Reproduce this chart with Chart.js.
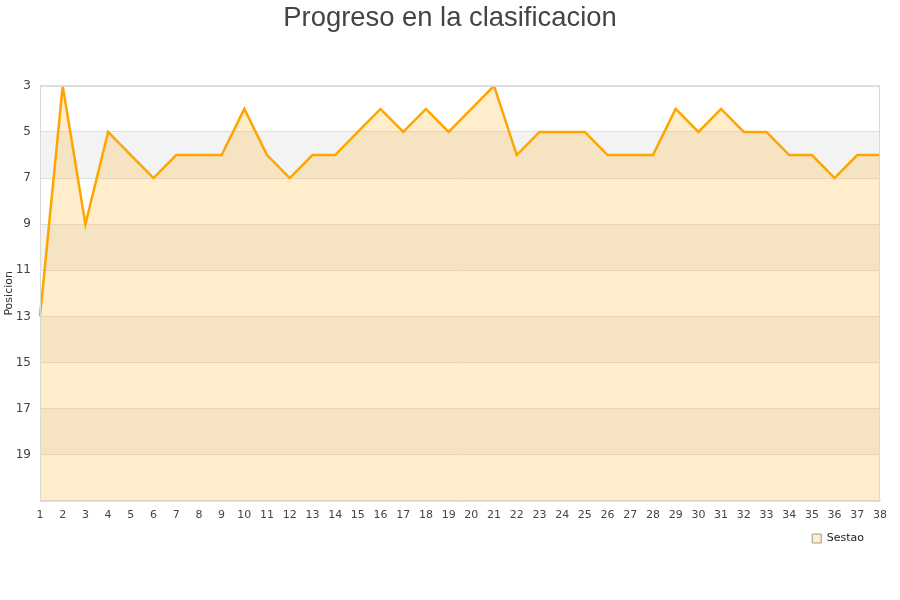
<!DOCTYPE html>
<html>
<head>
<meta charset="utf-8">
<script src="https://cdn.jsdelivr.net/npm/chart.js@4/dist/chart.umd.min.js"></script>
<style>
  html, body { margin: 0; padding: 0; background: #fff; }
  #wrap { width: 900px; height: 600px; }
</style>
</head>
<body>
<div id="wrap"><canvas id="progressChart"></canvas></div>
<script>
const jornadas = ['1','2','3','4','5','6','7','8','9','10','11','12','13','14','15','16','17','18','19',
    '20','21','22','23','24','25','26','27','28','29','30','31','32','33','34','35','36','37','38']
const posiciones = [13, 3, 9, 5, 6, 7, 6, 6, 6, 4, 6, 7, 6, 6, 5, 4, 5, 4, 5, 4, 3,
    6, 5, 5, 5, 6, 6, 6, 4, 5, 4, 5, 5, 6, 6, 7, 6, 6]
const equipo = 'Sestao'
const bandas = [3, 5, 7, 9, 11, 13, 15, 17, 19, 21]

const bandPlugin = {
    id: 'bands',
    afterLayout(chart) {
        // centre the title on the whole canvas, pull the legend a bit in from the right
        if (chart.titleBlock) {
            chart.titleBlock.left = 0
            chart.titleBlock.right = chart.width
        }
        if (chart.legend) {
            chart.legend.right -= 5
        }
    },
    beforeDraw(chart) {
        const {ctx, chartArea: {left, right}, scales: {y}} = chart
        ctx.save()
        for (let i = 0; i < bandas.length - 1; i++) {
            const y1 = y.getPixelForValue(bandas[i])
            const y2 = y.getPixelForValue(bandas[i + 1])
            ctx.fillStyle = i % 2 === 0 ? '#ffffff' : '#f3f3f3'
            ctx.fillRect(left, y1, right - left, y2 - y1)
        }
        ctx.restore()
    },
    afterDraw(chart) {
        const {ctx, chartArea: {left, right, top, bottom}} = chart
        ctx.save()
        ctx.strokeStyle = '#d9d9d9'
        ctx.lineWidth = 1
        ctx.strokeRect(left + 0.5, top + 0.5, right - left - 1, bottom - top)
        ctx.restore()
    }
}

new Chart(document.getElementById('progressChart'), {
    type: 'line',
    data: {
        labels: jornadas,
        datasets: [{
            label: equipo,
            data: posiciones,
            borderColor: '#ffa500',
            backgroundColor: 'rgba(255, 165, 0, 0.2)',
            borderWidth: 2.5,
            pointRadius: 0,
            tension: 0,
            fill: {value: 21}
        }]
    },
    options: {
        responsive: true,
        maintainAspectRatio: false,
        animation: false,
        layout: {padding: {left: 3, right: 20, bottom: 46}},
        scales: {
            x: {
                offset: false,
                grid: {display: false},
                border: {color: '#d9d9d9'},
                ticks: {
                    color: '#444',
                    maxRotation: 0,
                    autoSkip: false,
                    padding: 0,
                    font: {size: 11, family: "'DejaVu Sans', sans-serif"}
                }
            },
            y: {
                reverse: true,
                min: 3,
                max: 21,
                afterFit: (scale) => { scale.width = 37 },
                border: {color: '#d9d9d9'},
                grid: {color: '#e0e0e0', drawTicks: false},
                title: {
                    display: true,
                    text: 'Posicion',
                    color: '#333',
                    padding: {top: 0, bottom: 0},
                    font: {size: 11, family: "'DejaVu Sans', sans-serif"}
                },
                ticks: {
                    stepSize: 2,
                    color: '#444',
                    padding: 9,
                    font: {size: 12, family: "'DejaVu Sans', sans-serif"},
                    callback: (v) => v === 21 ? '' : v
                }
            }
        },
        plugins: {
            title: {
                display: true,
                text: 'Progreso en la clasificacion',
                color: '#444',
                padding: {top: 2, bottom: 51},
                font: {size: 27.4, weight: 'normal', family: "'Liberation Sans', Arial, sans-serif"}
            },
            legend: {
                position: 'bottom',
                align: 'end',
                labels: {
                    boxWidth: 9,
                    boxHeight: 9,
                    color: '#222',
                    padding: 11,
                    font: {size: 11, family: "'DejaVu Sans', sans-serif"},
                    generateLabels: (chart) => Chart.defaults.plugins.legend.labels.generateLabels(chart)
                        .map(item => ({...item, strokeStyle: '#999', lineWidth: 1}))
                }
            },
            tooltip: {enabled: false}
        }
    },
    plugins: [bandPlugin]
})
</script>
</body>
</html>
